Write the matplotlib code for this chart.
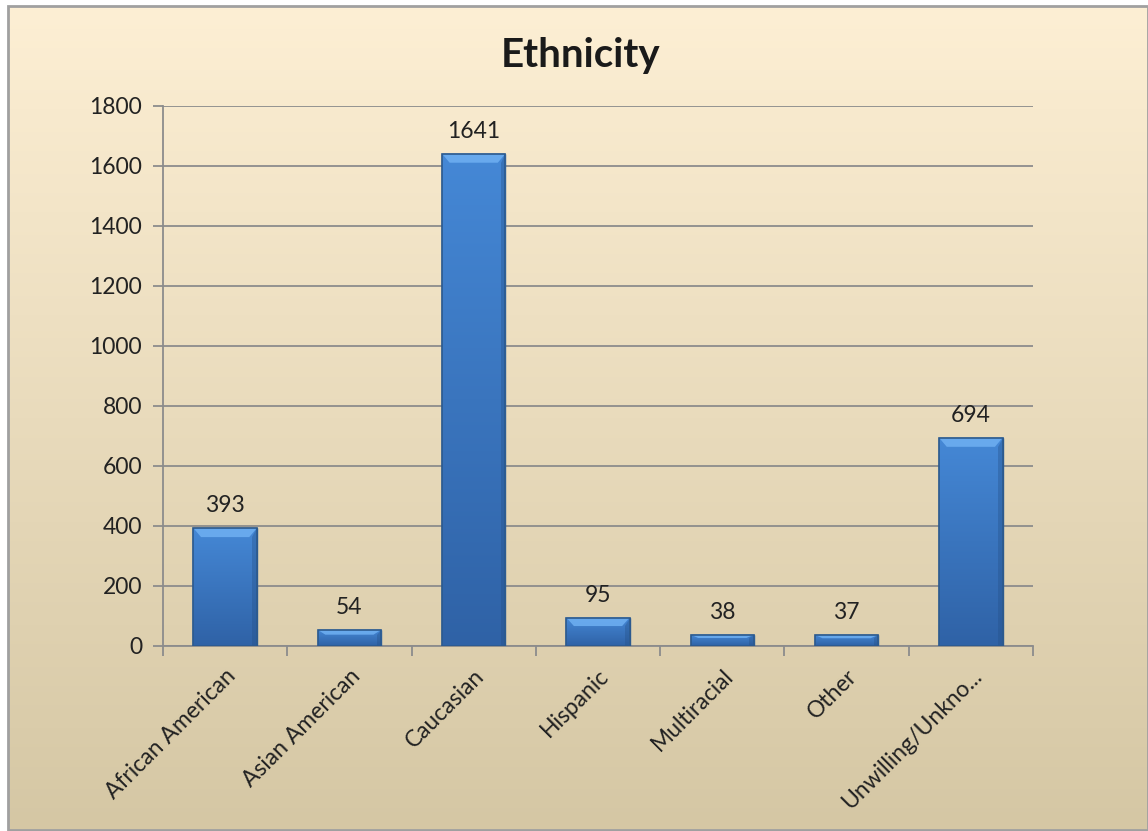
import numpy as np
import matplotlib.pyplot as plt
from matplotlib.patches import Rectangle, Polygon

categories = ['African American', 'Asian American', 'Caucasian', 'Hispanic',
              'Multiracial', 'Other', 'Unwilling/Unkno...']
counts = [393, 54, 1641, 95, 38, 37, 694]
y_ticks = [0, 200, 400, 600, 800, 1000, 1200, 1400, 1600, 1800]

plt.rcParams['font.family'] = ['Lato', 'DejaVu Sans']

fig = plt.figure(figsize=(11.48, 8.31), dpi=100)

# background gradient panel with border
bg = fig.add_axes([0, 0, 1, 1], zorder=-10)
bg.set_xlim(0, 1)
bg.set_ylim(0, 1)
bg.axis('off')
top = np.array([253, 239, 212]) / 255
bot = np.array([213, 199, 164]) / 255
t = np.linspace(0, 1, 256)[:, None]
grad = (top * (1 - t) + bot * t)[:, None, :].repeat(2, axis=1)
x0, y0, x1, y1 = 8 / 1148, 0, 1, 1 - 6 / 831
bg.imshow(grad, extent=[x0, x1, y0, y1], aspect='auto', origin='upper')
bg.add_patch(Rectangle((x0, y0 + 1 / 831), x1 - x0, y1 - y0 - 1 / 831, fill=False,
                       edgecolor='#a0a0a0', linewidth=2))

ax = fig.add_axes([163 / 1148, 1 - 646 / 831, 870 / 1148, 540 / 831])
ax.patch.set_alpha(0)
x = np.arange(len(categories))
bars = ax.bar(x, counts, width=0.51, color='#3a76c2', edgecolor='#2f5f95',
              linewidth=1, zorder=3)

# shading inside each bar
shade = np.linspace(0, 1, 256)[:, None]
c_top = np.array([0x45, 0x88, 0xd6]) / 255
c_bot = np.array([0x2f, 0x62, 0xa6]) / 255
bar_grad = (c_top * (1 - shade) + c_bot * shade)[:, None, :].repeat(2, axis=1)
for b in bars:
    bx, by, bw, bh = b.get_x(), b.get_y(), b.get_width(), b.get_height()
    im = ax.imshow(bar_grad, extent=[bx, bx + bw, by, by + bh], aspect='auto',
                   origin='upper', zorder=3)
    im.set_clip_path(b)
    # top bevel highlight (trapezoid)
    bev = min(30, bh * 0.3)
    inset = bw * 0.12
    ax.add_patch(Polygon([(bx, by + bh), (bx + bw, by + bh),
                          (bx + bw - inset, by + bh - bev), (bx + inset, by + bh - bev)],
                         closed=True, facecolor='#6fb0f2', edgecolor='none',
                         alpha=0.85, zorder=4))
    # darker side edges
    ax.add_patch(Polygon([(bx + bw, by + bh), (bx + bw, by),
                          (bx + bw - inset * 0.6, by), (bx + bw - inset * 0.6, by + bh - bev)],
                         closed=True, facecolor='#244f85', edgecolor='none',
                         alpha=0.35, zorder=4))
    ax.add_patch(Rectangle((bx, by), bw, bh, fill=False, edgecolor='#2c5a8e',
                           linewidth=1.2, zorder=5))
    ax.text(bx + bw / 2, bh + 40, str(int(bh)), ha='center', va='bottom',
            fontsize=16.5, color='#222222', zorder=6)

ax.set_xlim(-0.5, len(categories) - 0.5)
ax.set_ylim(0, 1800)
ax.set_yticks(y_ticks)
ax.set_yticklabels([str(v) for v in y_ticks], fontsize=16.5, color='#222222')
ax.yaxis.grid(True, color='#8c8c8c', linewidth=1.3, zorder=0)
ax.set_axisbelow(True)

ax.set_xticks(np.arange(len(categories) + 1) - 0.5)
ax.set_xticklabels([])
ax.set_xticks(x, minor=True)
ax.set_xticklabels(categories, minor=True, rotation=45, ha='right',
                   rotation_mode='anchor', fontsize=16.5, color='#222222')
ax.tick_params(axis='x', which='minor', length=0, pad=14)
ax.tick_params(axis='x', which='major', length=7, color='#8c8c8c', width=1.3)
ax.tick_params(axis='y', length=7, color='#8c8c8c', width=1.3, pad=8)

for s in ['top', 'right']:
    ax.spines[s].set_visible(False)
for s in ['left', 'bottom']:
    ax.spines[s].set_color('#8c8c8c')
    ax.spines[s].set_linewidth(1.3)

fig.text(581 / 1148, 1 - 55 / 831, 'Ethnicity', ha='center', va='center',
         fontsize=29, fontweight='bold', color='#1a1a1a')

fig.savefig('out.png', dpi=100)
